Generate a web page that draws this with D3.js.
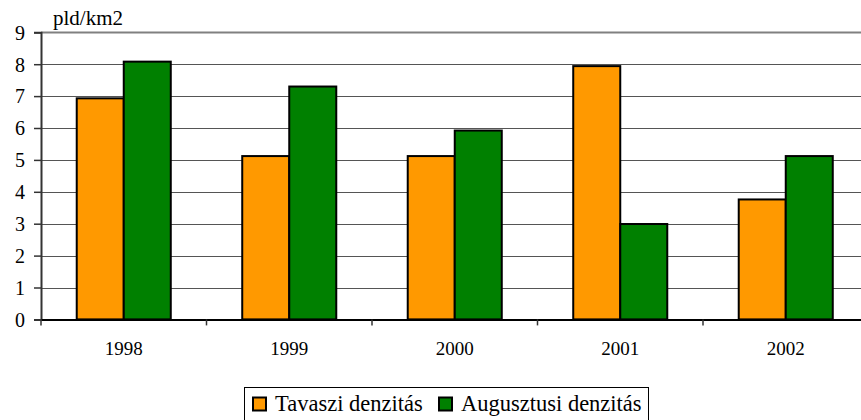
<!DOCTYPE html>
<html><head><meta charset="utf-8">
<script src="https://cdn.jsdelivr.net/npm/d3@7"></script>
</head><body style="margin:0;background:#fff">
<svg id="c" width="861" height="420" style="display:block"></svg>
<script>
const years = ["1998","1999","2000","2001","2002"];
const seriesNames = ["Tavaszi denzitás","Augusztusi denzitás"];
const tavaszi = [6.93, 5.12, 5.12, 7.94, 3.76];
const augusztusi = [8.08, 7.30, 5.92, 2.99, 5.12];
const yTicks = [0,1,2,3,4,5,6,7,8,9];
const colors = ["#FF9900","#008000"];
const unitLabel = "pld/km2";

(function(){
const FONT = '"Liberation Serif"';
const svg = d3.select("#c");
const pLeft = 41, pRight = 868.5, pTop = 32.3, pBottom = 319.4;
const x = d3.scaleBand().domain(years).range([pLeft, pRight]).padding(0);
const xs = d3.scaleBand().domain(seriesNames).range([0, x.bandwidth()]).paddingInner(0).paddingOuter(0.76);
const y = d3.scaleLinear().domain([0, 9]).range([pBottom, pTop]);

svg.append("g").selectAll("line").data(yTicks.filter(d => d > 0)).join("line")
  .attr("x1", pLeft).attr("x2", pRight)
  .attr("y1", d => Math.round(y(d)) + 0.5).attr("y2", d => Math.round(y(d)) + 0.5)
  .attr("stroke", d => d === 9 ? "#808080" : "#555")
  .attr("stroke-width", d => d === 9 ? 2 : 1);

const data = years.map((yr, i) => ({yr, vals: [tavaszi[i], augusztusi[i]]}));
const g = svg.append("g");
data.forEach(d => {
  d.vals.forEach((v, j) => {
    g.append("rect")
      .attr("x", x(d.yr) + xs(seriesNames[j]))
      .attr("y", y(v))
      .attr("width", xs.bandwidth())
      .attr("height", y(0) - y(v))
      .attr("fill", colors[j])
      .attr("stroke", "#000").attr("stroke-width", 2);
  });
});

const yAxis = d3.axisLeft(y).tickValues(yTicks).tickSize(7).tickPadding(9).tickFormat(d3.format("d"));
const ya = svg.append("g").attr("transform", `translate(${pLeft},0)`).call(yAxis);
ya.attr("font-family", null).attr("font-size", null);
ya.select(".domain").attr("stroke", "#333").attr("stroke-width", 2);
ya.selectAll(".tick line").attr("stroke", "#333").attr("stroke-width", 1.5);
ya.selectAll("text").style("font-family", FONT).style("font-size", "20px").attr("fill", "#000").attr("dy", "0.34em");

const xAxis = d3.axisBottom(x).tickSize(0).tickPadding(22);
const xa = svg.append("g").attr("transform", `translate(0,${pBottom})`).call(xAxis);
xa.attr("font-family", null).attr("font-size", null);
xa.select(".domain").attr("stroke", "#000").attr("stroke-width", 2);
xa.selectAll("text").style("font-family", FONT).style("font-size", "19px").attr("fill", "#000");
xa.append("g").selectAll("line").data(years.concat(["end"])).join("line")
  .attr("x1", (d, i) => pLeft + i * x.step()).attr("x2", (d, i) => pLeft + i * x.step())
  .attr("y1", 0).attr("y2", 6).attr("stroke", "#333").attr("stroke-width", 1.5);

svg.append("text").attr("x", 53).attr("y", 25).style("font-family", FONT).style("font-size", "21px").text(unitLabel);

const lg = svg.append("g");
lg.append("rect").attr("x", 244.5).attr("y", 387.5).attr("width", 404).attr("height", 45)
  .attr("fill", "#fff").attr("stroke", "#000").attr("stroke-width", 1);
const legX = [253, 439];
seriesNames.forEach((n, i) => {
  lg.append("rect").attr("x", legX[i]).attr("y", 397.5).attr("width", 13).attr("height", 13)
    .attr("fill", colors[i]).attr("stroke", "#000").attr("stroke-width", 2);
  lg.append("text").attr("x", legX[i] + 22).attr("y", 411).style("font-family", FONT).style("font-size", "22.5px").text(n);
});
})();
</script>
</body></html>
